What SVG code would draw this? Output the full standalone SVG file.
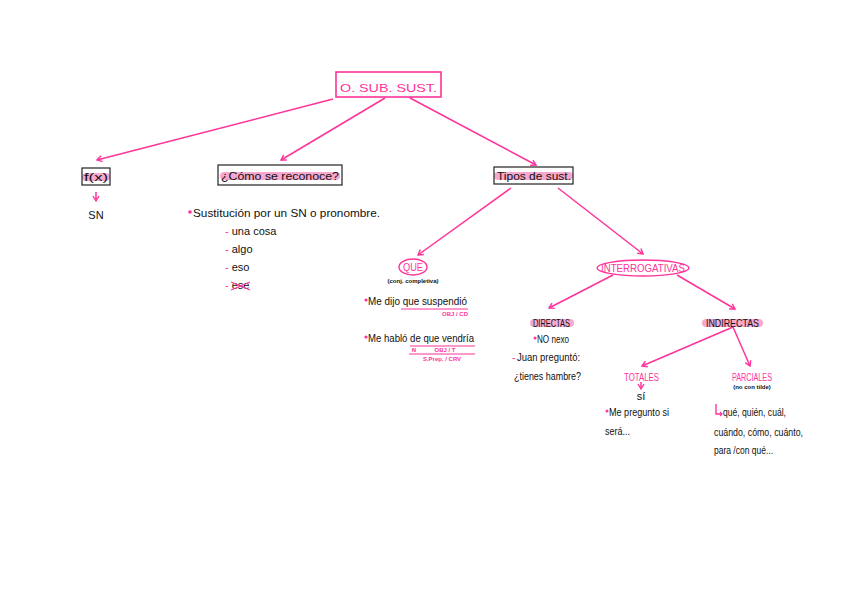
<svg xmlns="http://www.w3.org/2000/svg" width="848" height="599" viewBox="0 0 848 599">
<defs>
<style>
.t{font-family:"Liberation Sans",Arial,sans-serif;fill:#111;font-size:11px}
.p{fill:#ff3399}
.s{font-size:6px;font-weight:bold}
.c{text-anchor:middle}
.ln{stroke:#ff3399;stroke-width:1.5;fill:none}
.hl{stroke:#f7a8cf;stroke-linecap:round;fill:none}
.bx{fill:none;stroke:#222;stroke-width:1.2}
</style>
<marker id="ah" markerWidth="8" markerHeight="8" refX="6" refY="4" orient="auto" markerUnits="userSpaceOnUse">
<path d="M1,1 L6,4 L1,7" fill="none" stroke="#ff3399" stroke-width="1.4"/>
</marker>
</defs>
<rect width="848" height="599" fill="#fff"/>

<g id="connectors">
<line class="ln" x1="333" y1="99" x2="97" y2="160" marker-end="url(#ah)"/>
<line class="ln" x1="385" y1="98" x2="281" y2="160" marker-end="url(#ah)"/>
<line class="ln" x1="410" y1="98" x2="536" y2="165" marker-end="url(#ah)"/>
<path class="ln" d="M96,192 L96,201" marker-end="url(#ah)"/>
<line class="ln" x1="511" y1="188" x2="418" y2="255" marker-end="url(#ah)"/>
<line class="ln" x1="558" y1="188" x2="643" y2="254" marker-end="url(#ah)"/>
<line class="ln" x1="613" y1="275" x2="549" y2="308" marker-end="url(#ah)"/>
<line class="ln" x1="677" y1="275" x2="735" y2="309" marker-end="url(#ah)"/>
<line class="ln" x1="733" y1="327" x2="642" y2="366" marker-end="url(#ah)"/>
<line class="ln" x1="733" y1="327" x2="750" y2="366" marker-end="url(#ah)"/>
<line class="ln" x1="641" y1="382" x2="641" y2="389" marker-end="url(#ah)"/>
</g>

<g id="title">
<rect x="336" y="72" width="105" height="25" fill="none" stroke="#ff3399" stroke-width="1.6"/>
<text class="t p" x="340" y="92" font-size="18" textLength="97" lengthAdjust="spacingAndGlyphs">O. SUB. SUST.</text>
</g>

<g id="fx">
<line class="hl" x1="86" y1="177" x2="106" y2="177" stroke-width="8"/>
<rect class="bx" x="82" y="168" width="28" height="17"/>
<text class="t" x="84" y="181" font-size="13" textLength="24" lengthAdjust="spacingAndGlyphs">f(x)</text>
<text class="t c" x="96" y="219" font-size="12">SN</text>
</g>

<g id="como">
<line class="hl" x1="224" y1="176" x2="336" y2="176" stroke-width="8"/>
<rect class="bx" x="218" y="165" width="124" height="20"/>
<text class="t" x="221" y="180" font-size="13" textLength="118" lengthAdjust="spacingAndGlyphs">¿Cómo se reconoce?</text>
<circle cx="190" cy="212" r="1.8" fill="#ff3399"/>
<text class="t" x="193" y="217" font-size="12" textLength="187" lengthAdjust="spacingAndGlyphs">Sustitución por un SN o pronombre.</text>
<text class="t" x="225" y="235"><tspan class="p">-</tspan> una cosa</text>
<text class="t" x="225" y="253"><tspan class="p">-</tspan> algo</text>
<text class="t" x="225" y="271"><tspan class="p">-</tspan> eso</text>
<text class="t" x="225" y="289"><tspan class="p">-</tspan> ese</text>
<path d="M231,282 L250,290 M231,290 L250,282" stroke="#ff3399" stroke-width="1.2"/>
</g>

<g id="tipos">
<line class="hl" x1="498" y1="176" x2="569" y2="176" stroke-width="8"/>
<rect class="bx" x="494" y="167" width="79" height="17"/>
<text class="t" x="497" y="180" font-size="12" textLength="74" lengthAdjust="spacingAndGlyphs">Tipos de sust.</text>
</g>

<g id="que">
<ellipse cx="413" cy="267" rx="14" ry="8" fill="none" stroke="#ff3399" stroke-width="1.4"/>
<text class="t p" x="403" y="271" font-size="10.5" textLength="20" lengthAdjust="spacingAndGlyphs">QUE</text>
<text class="t c s" x="413" y="283" font-size="7">(conj. completiva)</text>
<circle cx="366" cy="300" r="1.6" fill="#ff3399"/>
<text class="t" x="368" y="305" font-size="11" textLength="99" lengthAdjust="spacingAndGlyphs">Me dijo que suspendió</text>
<line x1="401" y1="309" x2="468" y2="309" stroke="#ff3399" stroke-width="1.2"/>
<text class="t p c s" x="455" y="316">OBJ / CD</text>
<circle cx="366" cy="337" r="1.6" fill="#ff3399"/>
<text class="t" x="368" y="342" font-size="11" textLength="106" lengthAdjust="spacingAndGlyphs">Me habló de que vendría</text>
<line x1="410" y1="346" x2="475" y2="346" stroke="#ff3399" stroke-width="1.2"/>
<text class="t p c s" x="414" y="352">N</text>
<text class="t p c s" x="445" y="352">OBJ / T</text>
<line x1="409" y1="354" x2="475" y2="354" stroke="#ff3399" stroke-width="1.2"/>
<text class="t p c s" x="442" y="361">S.Prep. / CRV</text>
</g>

<g id="interrogativas">
<ellipse cx="643" cy="268" rx="46" ry="8" fill="none" stroke="#ff3399" stroke-width="1.4"/>
<text class="t p" x="601" y="272" font-size="10.5" textLength="84" lengthAdjust="spacingAndGlyphs">INTERROGATIVAS</text>
</g>

<g id="directas">
<line class="hl" x1="534" y1="323" x2="570" y2="323" stroke-width="8"/>
<text class="t" x="533" y="327" font-size="10" textLength="37" lengthAdjust="spacingAndGlyphs">DIRECTAS</text>
<circle cx="535" cy="338" r="1.5" fill="#ff3399"/>
<text class="t" x="537" y="343" font-size="10.5" textLength="32" lengthAdjust="spacingAndGlyphs">NO nexo</text>
<text class="t p" x="512" y="361" font-size="10.5">-</text>
<text class="t" x="517" y="361" font-size="10.5" textLength="63" lengthAdjust="spacingAndGlyphs">Juan preguntó:</text>
<text class="t" x="514" y="380" font-size="10.5" textLength="67" lengthAdjust="spacingAndGlyphs">¿tienes hambre?</text>
</g>

<g id="indirectas">
<line class="hl" x1="706" y1="323" x2="759" y2="323" stroke-width="8"/>
<text class="t" x="706" y="327" font-size="10" textLength="53" lengthAdjust="spacingAndGlyphs">INDIRECTAS</text>
</g>

<g id="totales">
<text class="t p" x="624" y="381" font-size="10" textLength="35" lengthAdjust="spacingAndGlyphs">TOTALES</text>
<text class="t c" x="641" y="400" font-size="10.5">sí</text>
<circle cx="607" cy="411" r="1.5" fill="#ff3399"/>
<text class="t" x="609" y="416" font-size="10.5" textLength="60" lengthAdjust="spacingAndGlyphs">Me pregunto si</text>
<text class="t" x="605" y="435" font-size="10.5" textLength="25" lengthAdjust="spacingAndGlyphs">será...</text>
</g>

<g id="parciales">
<text class="t p" x="732" y="381" font-size="10" textLength="40" lengthAdjust="spacingAndGlyphs">PARCIALES</text>
<text class="t c s" x="752" y="389" font-size="6.5">(no con tilde)</text>
<path d="M716,404 L716,414 L722,414" fill="none" stroke="#ff3399" stroke-width="1.4"/>
<path d="M720,412 L722,414 L720,416" fill="none" stroke="#ff3399" stroke-width="1.2"/>
<text class="t" x="723" y="416" font-size="10.5" textLength="63" lengthAdjust="spacingAndGlyphs">qué, quién, cuál,</text>
<text class="t" x="714" y="436" font-size="10.5" textLength="89" lengthAdjust="spacingAndGlyphs">cuándo, cómo, cuánto,</text>
<text class="t" x="714" y="454" font-size="10.5" textLength="59" lengthAdjust="spacingAndGlyphs">para /con qué...</text>
</g>
</svg>
